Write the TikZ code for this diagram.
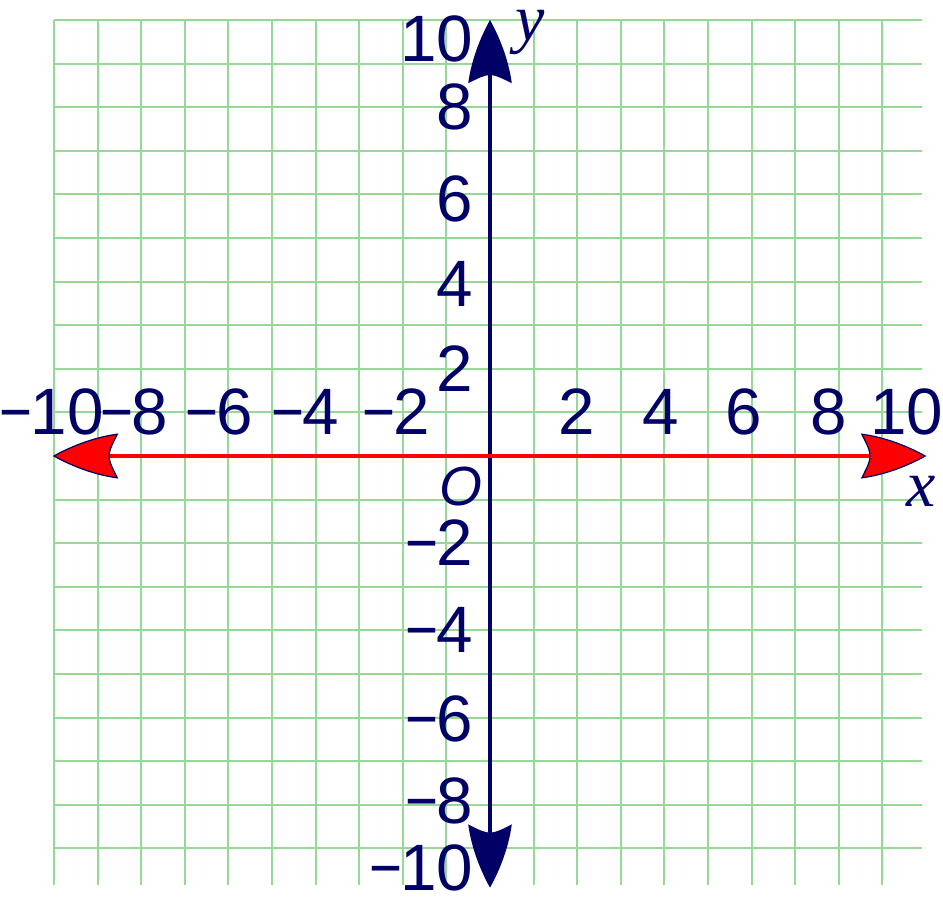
\documentclass[tikz,border=0pt]{standalone}
\usepackage{fontspec}
\setmainfont{Liberation Sans}
\newfontfamily\varfont{Liberation Serif}
\definecolor{navy}{RGB}{0,0,102}
\definecolor{gridgreen}{RGB}{150,216,150}
\newcommand\mns{\kern-0.04em\scalebox{0.86}[1]{−}\kern-0.03em}
\begin{document}
\begin{tikzpicture}[x=0.5cm,y=0.5cm,
  gridline/.style={gridgreen, line width=0.7pt},
  numlab/.style={text=navy, inner sep=0pt, font=\fontsize{21.4}{24}\selectfont},
  ylab/.style={numlab, anchor=base east},
  xlab/.style={numlab, anchor=base},
  varlab/.style={text=navy, inner sep=0pt, font=\fontsize{21.5}{24}\selectfont\varfont\itshape},
  navyhead/.pic={\fill[navy] (0,0) .. controls (-0.3,0.17) and (-0.85,0.42) .. (-1.45,0.5) .. controls (-1.2,0) .. (-1.45,-0.5) .. controls (-0.85,-0.42) and (-0.3,-0.17) .. (0,0) -- cycle;},
  redhead/.pic={\filldraw[fill=red, draw=navy, line width=0.4pt] (0,0) .. controls (-0.3,0.17) and (-0.85,0.42) .. (-1.45,0.5) .. controls (-1.2,0) .. (-1.45,-0.5) .. controls (-0.85,-0.42) and (-0.3,-0.17) .. (0,0) -- cycle;}
]
\useasboundingbox (-11.239,-10.114) rectangle (10.39,10.459);
% grid
\foreach \i in {-10,...,9} \draw[gridline] (\i,-9.85) -- (\i,10);
\foreach \j in {-9,...,10} \draw[gridline] (-10,\j) -- (9.9,\j);
% axis end points
\coordinate (yt) at (0,10);
\coordinate (yb) at (0,-9.9);
\coordinate (xl) at (-10,0);
\coordinate (xr) at (9.98,0);
% y axis
\draw[navy, line width=1.3pt, shorten >=10pt, shorten <=10pt] (yb) -- (yt);
\pic[rotate=90] at (yt) {navyhead};
\pic[rotate=-90] at (yb) {navyhead};
% x axis
\draw[red, line width=1.6pt, shorten >=10pt, shorten <=10pt] (xl) -- (xr);
\pic[rotate=180] at (xl) {redhead};
\pic at (xr) {redhead};
% x labels
\node[xlab] (xm10) at (-10.02,0.5) {\mns10};
\node[xlab] (xm8) at (-8.12,0.5) {\mns8};
\node[xlab] (xm6) at (-6.19,0.5) {\mns6};
\node[xlab] (xm4) at (-4.2,0.5) {\mns4};
\node[xlab] (xm2) at (-2.11,0.5) {\mns2};
\node[xlab] (xp2) at (1.995,0.5) {2};
\node[xlab] (xp4) at (3.92,0.5) {4};
\node[xlab] (xp6) at (5.83,0.5) {6};
\node[xlab] (xp8) at (7.78,0.5) {8};
\node[xlab] (xp10) at (9.56,0.5) {10};
% y labels
\node[ylab] (yp10) at (-0.37,9.04) {10};
\node[ylab] (yp8) at (-0.37,7.5) {8};
\node[ylab] (yp6) at (-0.37,5.39) {6};
\node[ylab] (yp4) at (-0.37,3.44) {4};
\node[ylab] (yp2) at (-0.37,1.49) {2};
\node[ylab] (ym2) at (-0.37,-2.52) {\mns2};
\node[ylab] (ym4) at (-0.37,-4.5) {\mns4};
\node[ylab] (ym6) at (-0.37,-6.54) {\mns6};
\node[ylab] (ym8) at (-0.37,-8.44) {\mns8};
\node[ylab] (ym10) at (-0.37,-9.96) {\mns10};
% origin and axis names
\node[text=navy, inner sep=0pt, font=\fontsize{18}{20}\selectfont\itshape] (orig) at (-0.665,-0.69) {O};
\node[varlab] (ylabel) at (0.92,9.72) {y};
\node[varlab] (xlabel) at (9.89,-0.80) {x};
\end{tikzpicture}
\end{document}
